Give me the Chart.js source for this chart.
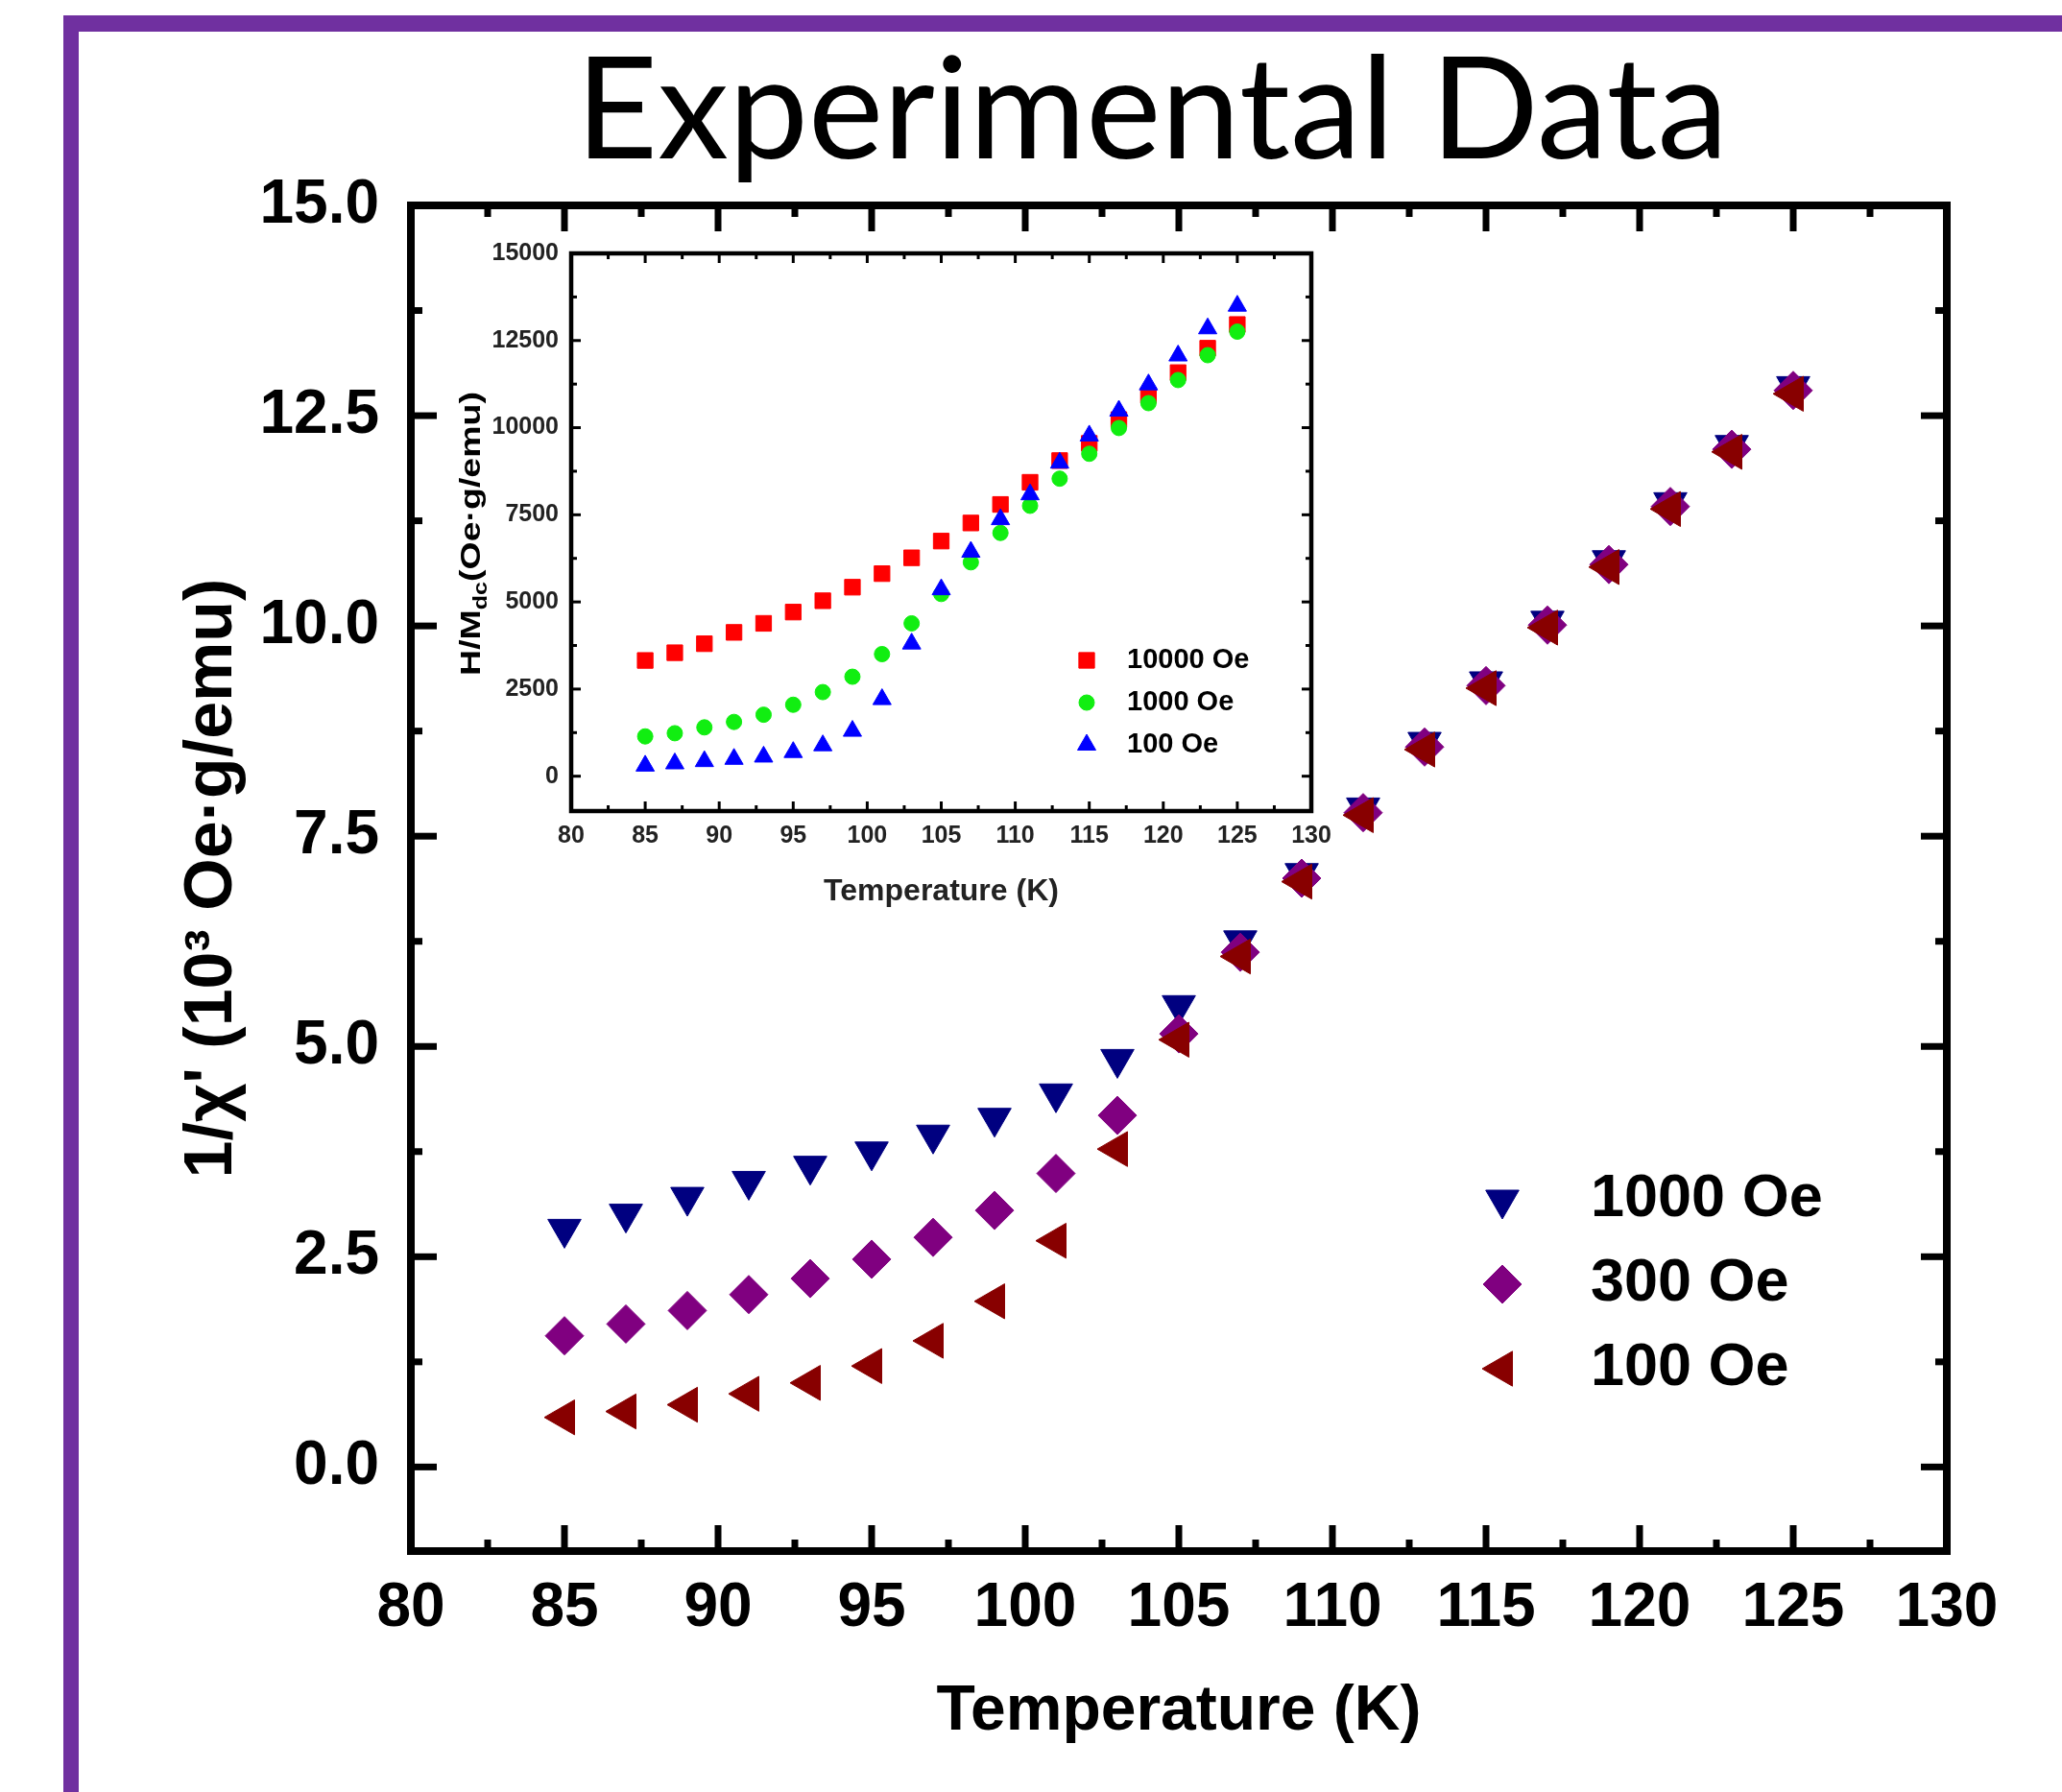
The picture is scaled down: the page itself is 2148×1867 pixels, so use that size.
<!DOCTYPE html>
<html>
<head>
<meta charset="utf-8">
<script src="https://cdn.jsdelivr.net/npm/chart.js@4.4.1/dist/chart.umd.min.js"></script>
<style>
html, body { margin: 0; padding: 0; background: #fff; }
#page { position: relative; width: 2148px; height: 1867px; overflow: hidden; background: #fff; }
#frame { position: absolute; left: 66px; top: 16px; width: 2300px; height: 2100px;
  border-left: 16px solid #7030a0; border-top: 17px solid #7030a0; }
#title { position: absolute; left: 1200px; top: 34px; transform: translateX(-50%);
  font-family: Lato, "Open Sans", sans-serif; font-size: 148px; line-height: 1; white-space: nowrap; color: #000; }
#main { position: absolute; left: 0; top: 0; }
#inset { position: absolute; left: 440px; top: 230px; }
</style>
</head>
<body>
<div id="page">
  <div id="frame"></div>
  <div id="title">Experimental Data</div>
  <canvas id="main" width="2148" height="1867"></canvas>
  <canvas id="inset" width="980" height="740"></canvas>
</div>
<script>
// temperatures (K)
const temps = [85, 87, 89, 91, 93, 95, 97, 99, 101, 103, 105, 107, 109, 111, 113, 115, 117, 119, 121, 123, 125];

// main plot: 1/chi' (10^3 Oe.g/emu)
const chi1000 = [2.83, 3.01, 3.21, 3.40, 3.58, 3.75, 3.95, 4.15, 4.44, 4.85, 5.49, 6.26, 7.06, 7.84, 8.62, 9.34, 10.06, 10.78, 11.47, 12.15, 12.85];
const chi300 = [1.56, 1.70, 1.86, 2.05, 2.24, 2.47, 2.73, 3.05, 3.49, 4.18, 5.15, 6.12, 7.00, 7.78, 8.56, 9.29, 10.01, 10.73, 11.42, 12.10, 12.80];
const chi100 = [0.59, 0.66, 0.74, 0.87, 1.00, 1.20, 1.50, 1.97, 2.69, 3.78, 5.08, 6.07, 6.96, 7.75, 8.53, 9.26, 9.98, 10.70, 11.39, 12.07, 12.76];

// inset: H/Mdc (Oe.g/emu)
const hm10000 = [3321, 3542, 3801, 4126, 4385, 4709, 5034, 5423, 5812, 6266, 6746, 7265, 7797, 8433, 9056, 9550, 10230, 10930, 11580, 12280, 12960];
const hm1000 = [1142, 1233, 1401, 1557, 1764, 2050, 2413, 2854, 3503, 4385, 5228, 6137, 6980, 7759, 8537, 9251, 9990, 10704, 11366, 12080, 12755];
const hm100 = [298, 363, 428, 493, 558, 688, 882, 1297, 2206, 3801, 5358, 6435, 7369, 8083, 8991, 9770, 10483, 11236, 12066, 12845, 13494];

// tick labels
const xTicks = [80, 85, 90, 95, 100, 105, 110, 115, 120, 125, 130];
const yTicks = [0, 2.5, 5, 7.5, 10, 12.5, 15];
const insetYTicks = [0, 2500, 5000, 7500, 10000, 12500, 15000];

const FONT = '"Liberation Sans", Arial, sans-serif';

function pts(xs, ys) {
    return xs.map(function (x, i) { return { x: x, y: ys[i] }; });
}

// frame with inward major / minor ticks on all four sides (Origin style)
function boxTicks(o) {
    return {
        id: 'boxTicks',
        afterDraw: function (chart) {
            const ctx = chart.ctx, a = chart.chartArea;
            const sx = chart.scales.x, sy = chart.scales.y;
            ctx.save();
            ctx.strokeStyle = '#000';
            ctx.lineWidth = o.tickWidth;
            function seg(x1, y1, x2, y2) {
                ctx.beginPath(); ctx.moveTo(x1, y1); ctx.lineTo(x2, y2); ctx.stroke();
            }
            function xTick(v, len) {
                const p = sx.getPixelForValue(v);
                seg(p, a.bottom, p, a.bottom - len);
                seg(p, a.top, p, a.top + len);
            }
            function yTick(v, len) {
                const p = sy.getPixelForValue(v);
                seg(a.left, p, a.left + len, p);
                seg(a.right, p, a.right - len, p);
            }
            o.xt.forEach(function (v, i) {
                xTick(v, o.major);
                if (i < o.xt.length - 1) xTick((v + o.xt[i + 1]) / 2, o.minor);
            });
            o.yt.forEach(function (v, i) {
                yTick(v, o.major);
                if (i < o.yt.length - 1) yTick((v + o.yt[i + 1]) / 2, o.minor);
            });
            ctx.lineWidth = o.frameWidth;
            ctx.strokeRect(a.left, a.top, a.right - a.left, a.bottom - a.top);
            ctx.restore();
        }
    };
}

// legend drawn inside the plot, symbols taken from the datasets
function symbolLegend(o) {
    return {
        id: 'symbolLegend',
        afterDraw: function (chart) {
            const ctx = chart.ctx;
            ctx.save();
            chart.data.datasets.forEach(function (ds, i) {
                const y = o.y + i * o.gap;
                ctx.fillStyle = ds.backgroundColor;
                ctx.strokeStyle = ds.borderColor;
                ctx.lineWidth = 1;
                Chart.helpers.drawPoint(ctx, {
                    pointStyle: ds.pointStyle, radius: ds.pointRadius,
                    rotation: ds.pointRotation || 0, borderWidth: 1
                }, o.x, y);
                ctx.fillStyle = '#000';
                ctx.font = 'bold ' + o.size + 'px ' + FONT;
                ctx.textAlign = 'left';
                ctx.textBaseline = 'middle';
                ctx.fillText(ds.label, o.textX, y);
            });
            ctx.restore();
        }
    };
}

function fixTicks(list) {
    return function (scale) {
        scale.ticks = list.map(function (v) { return { value: v }; });
    };
}

// ---------- main chart ----------
new Chart(document.getElementById('main'), {
    type: 'scatter',
    data: {
        datasets: [
            {
                label: '1000 Oe', data: pts(temps, chi1000), pointStyle: 'triangle', pointRotation: 180,
                pointRadius: 20, backgroundColor: '#000080', borderColor: '#000080', borderWidth: 1, order: 2
            },
            {
                label: '300 Oe', data: pts(temps, chi300), pointStyle: 'rectRot',
                pointRadius: 20, backgroundColor: '#800080', borderColor: '#800080', borderWidth: 1, order: 1
            },
            {
                label: '100 Oe', data: pts(temps, chi100), pointStyle: 'triangle', pointRotation: 270,
                pointRadius: 21, backgroundColor: '#880000', borderColor: '#880000', borderWidth: 1, order: 0
            }
        ]
    },
    options: {
        responsive: false,
        animation: false,
        events: [],
        layout: { padding: { left: 0, top: 214, right: 120, bottom: 0 } },
        plugins: {
            legend: { display: false },
            tooltip: { enabled: false },
            title: { display: false }
        },
        scales: {
            x: {
                type: 'linear', min: 80, max: 130,
                afterBuildTicks: fixTicks(xTicks),
                afterFit: function (s) { s.height = 251; },
                grid: { display: false, drawTicks: false },
                border: { display: false },
                ticks: { padding: 22, color: '#000', autoSkip: false, maxRotation: 0,
                    font: { family: FONT, size: 64, weight: 'bold' } },
                title: { display: true, text: 'Temperature (K)', color: '#000',
                    font: { family: FONT, size: 66, weight: 'bold' }, padding: { top: 0, bottom: 44 } }
            },
            y: {
                type: 'linear', min: -1, max: 15,
                afterBuildTicks: fixTicks(yTicks),
                afterFit: function (s) { s.width = 428; },
                grid: { display: false, drawTicks: false },
                border: { display: false },
                ticks: { padding: 33, color: '#000', font: { family: FONT, size: 64, weight: 'bold' },
                    callback: function (v) { return v.toFixed(1); } },
                title: { display: true, text: "1/χ' (10³ Oe·g/emu)", color: '#000',
                    font: { family: FONT, size: 70, weight: 'bold' }, padding: { top: 180, bottom: 0 } }
            }
        }
    },
    plugins: [
        boxTicks({ xt: xTicks, yt: yTicks, major: 27, minor: 12, tickWidth: 7, frameWidth: 8 }),
        symbolLegend({ x: 1565, y: 1250, gap: 88, textX: 1657, size: 63 })
    ]
});

// ---------- inset ----------
const insetYTitle = {
    id: 'insetYTitle',
    afterDraw: function (chart) {
        const ctx = chart.ctx;
        const size = 30, sub = 20;
        ctx.save();
        ctx.translate(49, 326);
        ctx.rotate(-Math.PI / 2);
        ctx.scale(1.25, 1);
        ctx.fillStyle = '#000';
        ctx.textBaseline = 'alphabetic';
        const big = 'bold ' + size + 'px ' + FONT, small = 'bold ' + sub + 'px ' + FONT;
        ctx.font = big;
        const w1 = ctx.measureText('H/M').width, w3 = ctx.measureText('(Oe·g/emu)').width;
        ctx.font = small;
        const w2 = ctx.measureText('dc').width;
        let x = -(w1 + w2 + w3) / 2;
        const base = size * 0.36;
        ctx.font = big; ctx.fillText('H/M', x, base); x += w1;
        ctx.font = small; ctx.fillText('dc', x, base + 7); x += w2;
        ctx.font = big; ctx.fillText('(Oe·g/emu)', x, base);
        ctx.restore();
    }
};

new Chart(document.getElementById('inset'), {
    type: 'scatter',
    data: {
        datasets: [
            {
                label: '10000 Oe', data: pts(temps, hm10000), pointStyle: 'rect',
                pointRadius: 11.5, backgroundColor: '#ff0000', borderColor: '#ff0000', borderWidth: 1, order: 2
            },
            {
                label: '1000 Oe', data: pts(temps, hm1000), pointStyle: 'circle',
                pointRadius: 8, backgroundColor: '#11ee11', borderColor: '#11ee11', borderWidth: 1, order: 1
            },
            {
                label: '100 Oe', data: pts(temps, hm100), pointStyle: 'triangle',
                pointRadius: 11, backgroundColor: '#0000ff', borderColor: '#0000ff', borderWidth: 1, order: 0
            }
        ]
    },
    options: {
        responsive: false,
        animation: false,
        events: [],
        layout: { padding: { left: 0, top: 34, right: 54, bottom: 0 } },
        plugins: {
            legend: { display: false },
            tooltip: { enabled: false },
            title: { display: false }
        },
        scales: {
            x: {
                type: 'linear', min: 80, max: 130,
                afterBuildTicks: fixTicks(xTicks),
                afterFit: function (s) { s.height = 125; },
                grid: { display: false, drawTicks: false },
                border: { display: false },
                ticks: { padding: 11, color: '#222', autoSkip: false, maxRotation: 0,
                    font: { family: FONT, size: 25, weight: 'bold' } },
                title: { display: true, text: 'Temperature (K)', color: '#222',
                    font: { family: FONT, size: 32, weight: 'bold' }, padding: { top: 0, bottom: 22 } }
            },
            y: {
                type: 'linear', min: -1000, max: 15000,
                afterBuildTicks: fixTicks(insetYTicks),
                afterFit: function (s) { s.width = 155; },
                grid: { display: false, drawTicks: false },
                border: { display: false },
                ticks: { padding: 13, color: '#222', font: { family: FONT, size: 25, weight: 'bold' },
                    callback: function (v) { return String(v); } },
                title: { display: false }
            }
        }
    },
    plugins: [
        boxTicks({ xt: xTicks, yt: insetYTicks, major: 10, minor: 6, tickWidth: 3, frameWidth: 4.5 }),
        symbolLegend({ x: 692, y: 458, gap: 44, textX: 734, size: 29 }),
        insetYTitle
    ]
});
</script>
</body>
</html>
